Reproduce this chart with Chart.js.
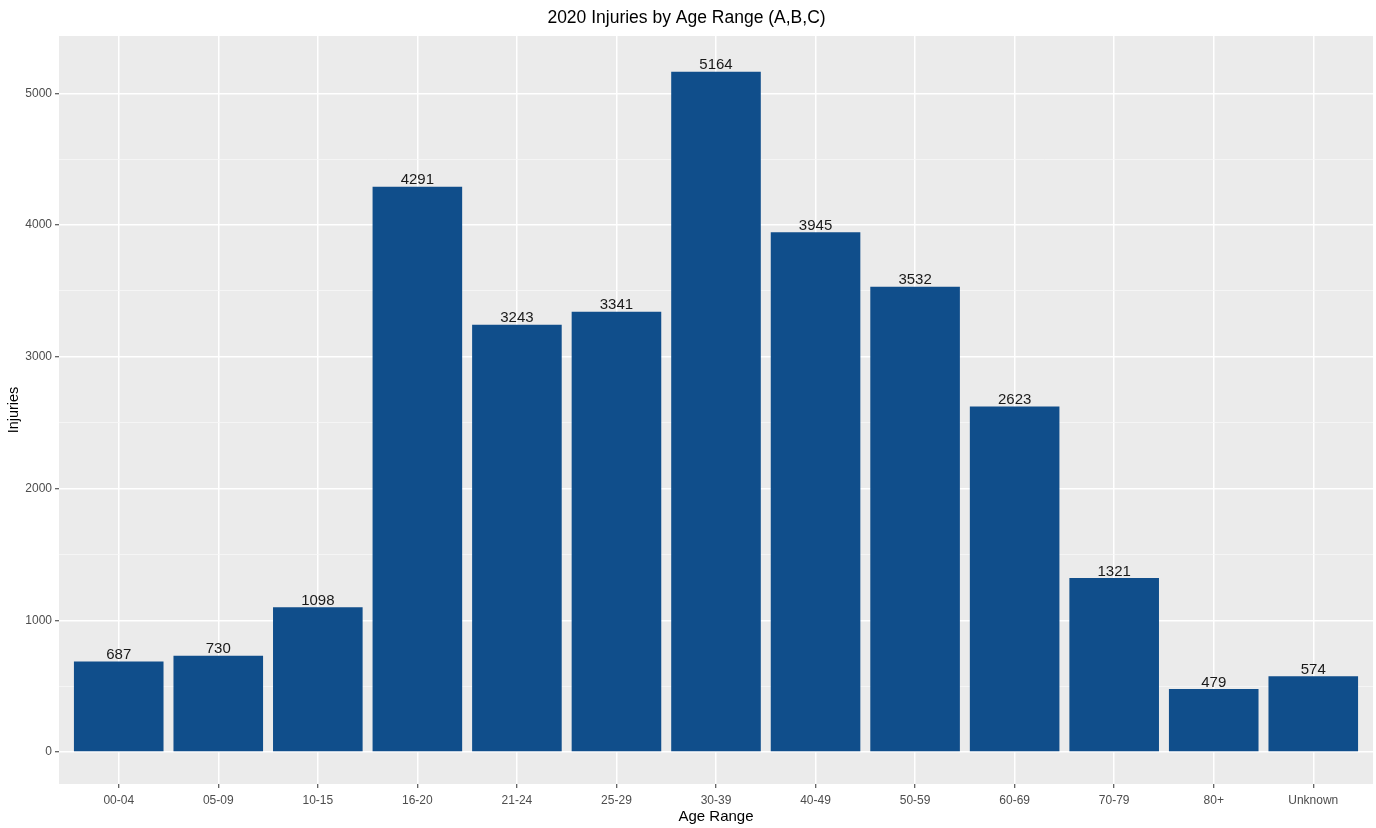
<!DOCTYPE html>
<html>
<head>
<meta charset="utf-8">
<title>2020 Injuries by Age Range</title>
<script src="https://cdn.jsdelivr.net/npm/chart.js@4"></script>
<style>
  html, body { margin: 0; padding: 0; background: #fff; }
  #wrap { width: 1376px; height: 828px; }
</style>
</head>
<body>
<div id="wrap"><canvas id="injuryChart"></canvas></div>
<script>
const ageRanges = ['00-04', '05-09', '10-15', '16-20', '21-24', '25-29', '30-39', '40-49', '50-59', '60-69', '70-79', '80+', 'Unknown'];
const injuries = [687, 730, 1098, 4291, 3243, 3341, 5164, 3945, 3532, 2623, 1321, 479, 574];
const yTicks = [0, 500, 1000, 1500, 2000, 2500, 3000, 3500, 4000, 4500, 5000];

const FONT = "'Liberation Sans', Arial, sans-serif";

// grey ggplot-like panel
const panelBg = {
    id: 'panelBg',
    beforeDraw(chart) {
        const { ctx, chartArea: a } = chart;
        ctx.save();
        ctx.fillStyle = '#EBEBEB';
        ctx.fillRect(a.left, a.top, a.right - a.left, a.bottom - a.top);
        ctx.restore();
    }
};

// value labels on top of bars
const barLabels = {
    id: 'barLabels',
    afterDatasetsDraw(chart) {
        const { ctx } = chart;
        const meta = chart.getDatasetMeta(0);
        ctx.save();
        ctx.font = '15px ' + FONT;
        ctx.fillStyle = '#1a1a1a';
        ctx.textAlign = 'center';
        ctx.textBaseline = 'bottom';
        meta.data.forEach((bar, i) => {
            ctx.fillText(injuries[i], bar.x, bar.y + 1);
        });
        ctx.restore();
    }
};

const isMajor = v => v % 1000 === 0;

new Chart(document.getElementById('injuryChart'), {
    type: 'bar',
    data: {
        datasets: [{
            label: 'Injuries',
            data: injuries.map((v, i) => ({ x: i, y: v })),
            backgroundColor: '#104E8B',
            borderWidth: 0,
            barPercentage: 0.9,
            categoryPercentage: 1.0
        }]
    },
    options: {
        responsive: true,
        maintainAspectRatio: false,
        animation: false,
        layout: { padding: { left: 0, right: 3, top: 0, bottom: 0 } },
        plugins: {
            legend: { display: false },
            tooltip: { enabled: false },
            title: {
                display: true,
                text: '2020 Injuries by Age Range (A,B,C)',
                color: '#000',
                font: { family: FONT, size: 17.5, weight: 'normal', lineHeight: 1.2 },
                padding: { top: 8, bottom: 7 }
            }
        },
        scales: {
            x: {
                type: 'linear',
                min: -0.6,
                max: 12.6,
                offset: false,
                afterBuildTicks: s => { s.ticks = ageRanges.map((_, i) => ({ value: i })); },
                afterFit: s => { s.height = 44; },
                border: { display: false },
                grid: {
                    offset: false,
                    color: '#FFFFFF',
                    lineWidth: 1.5,
                    tickColor: '#333333',
                    tickLength: 4,
                    tickWidth: 1
                },
                ticks: {
                    autoSkip: false,
                    maxRotation: 0,
                    padding: 5,
                    color: '#4D4D4D',
                    font: { family: FONT, size: 12 },
                    callback: v => ageRanges[v]
                },
                title: {
                    display: true,
                    text: 'Age Range',
                    color: '#000',
                    font: { family: FONT, size: 15, lineHeight: 1.2 },
                    padding: { top: 0, bottom: 2 }
                }
            },
            y: {
                min: -243,
                max: 5435,
                afterBuildTicks: s => { s.ticks = yTicks.map(v => ({ value: v })); },
                afterFit: s => { s.width = 59; },
                border: { display: false },
                grid: {
                    color: ctx => isMajor(ctx.tick.value) ? '#FFFFFF' : '#F7F7F7',
                    lineWidth: ctx => isMajor(ctx.tick.value) ? 1.5 : 0.8,
                    tickColor: ctx => isMajor(ctx.tick.value) ? '#333333' : 'rgba(0,0,0,0)',
                    tickLength: 4,
                    tickWidth: 1
                },
                ticks: {
                    padding: 3,
                    color: '#4D4D4D',
                    font: { family: FONT, size: 12 },
                    callback: v => isMajor(v) ? v : ''
                },
                title: {
                    display: true,
                    text: 'Injuries',
                    color: '#000',
                    font: { family: FONT, size: 14.5, lineHeight: 1.2 },
                    padding: { top: 5, bottom: 0 }
                }
            }
        }
    },
    plugins: [panelBg, barLabels]
});
</script>
</body>
</html>
